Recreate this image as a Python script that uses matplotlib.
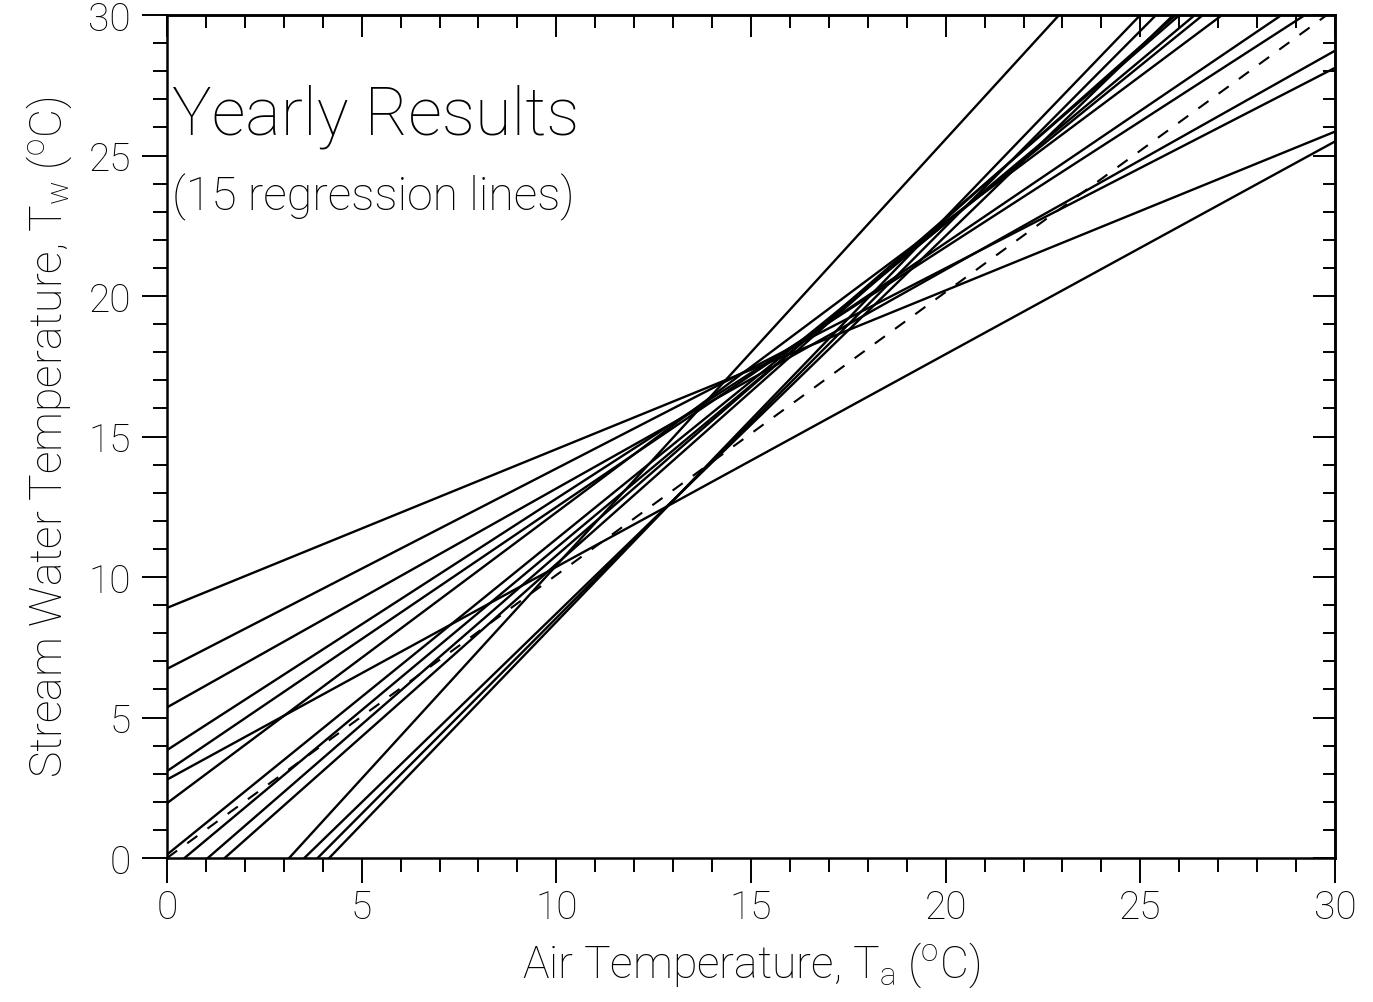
import numpy as np
import matplotlib
matplotlib.use('Agg')
import matplotlib.pyplot as plt
from matplotlib.ticker import MultipleLocator

plt.rcParams['font.family'] = ['Roboto', 'DejaVu Sans']
plt.rcParams['font.weight'] = 'light'
plt.rcParams['axes.labelweight'] = 'light'
plt.rcParams['mathtext.fontset'] = 'custom'
plt.rcParams['mathtext.rm'] = 'Roboto:light'
plt.rcParams['mathtext.it'] = 'Roboto:light'

# yearly regression lines, Tw = a + b * Ta
intercepts = [8.90, 6.73, 5.36, 3.84, 3.09, 2.79, 1.95, 0.12,
              -0.52, -1.26, -1.82, -4.76, -4.74, -5.39, -6.00]
slopes = [0.565, 0.713, 0.779, 0.895, 0.940, 0.757, 1.035, 1.123,
          1.156, 1.202, 1.228, 1.517, 1.344, 1.393, 1.440]

# dashed reference line
dash_intercept = 0.0
dash_slope = 1.007

ta = np.array([0.0, 30.0])

fig = plt.figure(figsize=(13.73, 10.03), dpi=100)
ax = fig.add_axes([167 / 1373, 1 - 859 / 1003, (1335 - 167) / 1373, (859 - 16) / 1003])

for a, b in zip(intercepts, slopes):
    ax.plot(ta, a + b * ta, color='black', linewidth=1.7)

ax.plot(ta, dash_intercept + dash_slope * ta, color='black', linewidth=1.5,
        dashes=(6, 6))

ax.set_xlim(0, 30)
ax.set_ylim(0, 30)

for axis in (ax.xaxis, ax.yaxis):
    axis.set_major_locator(MultipleLocator(5))
    axis.set_minor_locator(MultipleLocator(1))

ax.tick_params(which='both', direction='out', width=1.4, labelsize=28, colors='black')
ax.tick_params(which='major', length=18)
ax.tick_params(which='minor', length=10)
ax.tick_params(axis='x', pad=4)
ax.tick_params(axis='y', pad=8)

top = ax.secondary_xaxis('top')
right = ax.secondary_yaxis('right')
for sec, axis in ((top, top.xaxis), (right, right.yaxis)):
    axis.set_major_locator(MultipleLocator(5))
    axis.set_minor_locator(MultipleLocator(1))
    sec.tick_params(which='both', direction='in', width=1.4,
                    labeltop=False, labelright=False)
    sec.tick_params(which='major', length=16)
    sec.tick_params(which='minor', length=9)

for s in list(ax.spines.values()) + [top.spines['top'], right.spines['right']]:
    s.set_linewidth(1.8)

ax.set_xlabel(r'Air Temperature, T$_{\rm a}$ ($^{\rm o}$C)', fontsize=32, labelpad=10)
ax.set_ylabel(r'Stream Water Temperature, T$_{\rm w}$ ($^{\rm o}$C)', fontsize=32, labelpad=10)

ax.text(0.13, 25.77, 'Yearly Results', fontsize=48, va='baseline', ha='left')
ax.text(0.13, 23.1, '(15 regression lines)', fontsize=33.5, va='baseline', ha='left')

fig.savefig('out.png', dpi=100)
